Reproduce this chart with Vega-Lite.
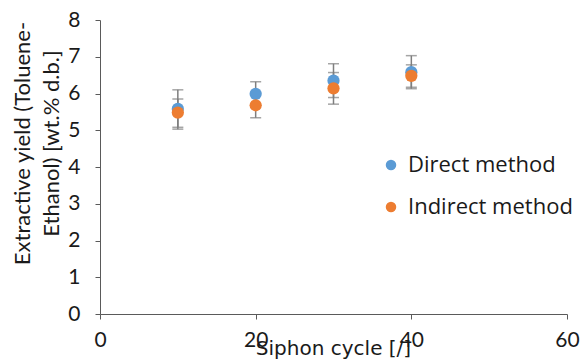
{
  "$schema": "https://vega.github.io/schema/vega-lite/v6.json",
  "width": 467,
  "height": 294,
  "autosize": {"type": "none"},
  "padding": {"left": 100, "top": 20, "right": 16, "bottom": 46},
  "background": "white",
  "config": {
    "view": {"stroke": null},
    "font": "Lato"
  },
  "data": {
    "values": [
      {"cycle": 10, "method": "Direct method", "y": 5.58, "lo": 5.08, "hi": 6.1},
      {"cycle": 20, "method": "Direct method", "y": 5.99, "lo": 5.67, "hi": 6.32},
      {"cycle": 30, "method": "Direct method", "y": 6.35, "lo": 5.89, "hi": 6.81},
      {"cycle": 40, "method": "Direct method", "y": 6.58, "lo": 6.13, "hi": 7.03},
      {"cycle": 10, "method": "Indirect method", "y": 5.48, "lo": 5.03, "hi": 5.85},
      {"cycle": 20, "method": "Indirect method", "y": 5.68, "lo": 5.34, "hi": 6.02},
      {"cycle": 30, "method": "Indirect method", "y": 6.14, "lo": 5.71, "hi": 6.57},
      {"cycle": 40, "method": "Indirect method", "y": 6.48, "lo": 6.17, "hi": 6.78}
    ]
  },
  "encoding": {
    "x": {
      "field": "cycle", "type": "quantitative",
      "scale": {"domain": [0, 60], "nice": false, "zero": true},
      "axis": {
        "values": [0, 20, 40, 60],
        "grid": false,
        "title": "Siphon cycle [/]",
        "titleFont": "DejaVu Sans",
        "titleFontSize": 20,
        "titleFontWeight": "normal",
        "titleColor": "#1a1a1a",
        "titleBaseline": "top",
        "titleY": 24,
        "titleX": 233,
        "labelFontSize": 21,
        "labelColor": "#1a1a1a",
        "labelPadding": 10,
        "domainColor": "#5a5a5a",
        "tickColor": "#5a5a5a",
        "tickSize": 5,
        "labelFlush": false
      }
    },
    "y": {
      "field": "y", "type": "quantitative",
      "scale": {"domain": [0, 8], "nice": false},
      "axis": {
        "values": [0, 1, 2, 3, 4, 5, 6, 7, 8],
        "grid": false,
        "title": ["Extractive yield (Toluene-", "Ethanol) [wt.% d.b.]"],
        "titleFontSize": 22,
        "titleFontWeight": "normal",
        "titleColor": "#1a1a1a",
        "titleAngle": -90,
        "titleX": -88,
        "titleY": 123,
        "titleBaseline": "top",
        "titleLineHeight": 29,
        "labelFontSize": 21,
        "labelColor": "#1a1a1a",
        "labelPadding": 15,
        "domainColor": "#5a5a5a",
        "tickColor": "#5a5a5a",
        "tickSize": 5
      }
    }
  },
  "layer": [
    {
      "mark": {"type": "rule", "color": "#7f7f7f", "strokeWidth": 1.5},
      "encoding": {"y": {"field": "lo", "type": "quantitative"}, "y2": {"field": "hi"}}
    },
    {
      "mark": {"type": "tick", "orient": "horizontal", "color": "#7f7f7f", "size": 11, "thickness": 1.5},
      "encoding": {"y": {"field": "lo", "type": "quantitative"}}
    },
    {
      "mark": {"type": "tick", "orient": "horizontal", "color": "#7f7f7f", "size": 11, "thickness": 1.5},
      "encoding": {"y": {"field": "hi", "type": "quantitative"}}
    },
    {
      "mark": {"type": "circle", "size": 150, "opacity": 1},
      "encoding": {
        "color": {
          "field": "method", "type": "nominal",
          "scale": {"domain": ["Direct method", "Indirect method"], "range": ["#5B9BD5", "#ED7D31"]},
          "legend": {
            "title": null,
            "orient": "none",
            "legendX": 280,
            "legendY": 134,
            "symbolType": "circle",
            "symbolSize": 110,
            "labelFontSize": 22,
            "labelLimit": 400,
            "labelColor": "#1a1a1a",
            "labelFont": "Open Sans",
            "rowPadding": 20,
            "labelOffset": 6
          }
        }
      }
    }
  ]
}
